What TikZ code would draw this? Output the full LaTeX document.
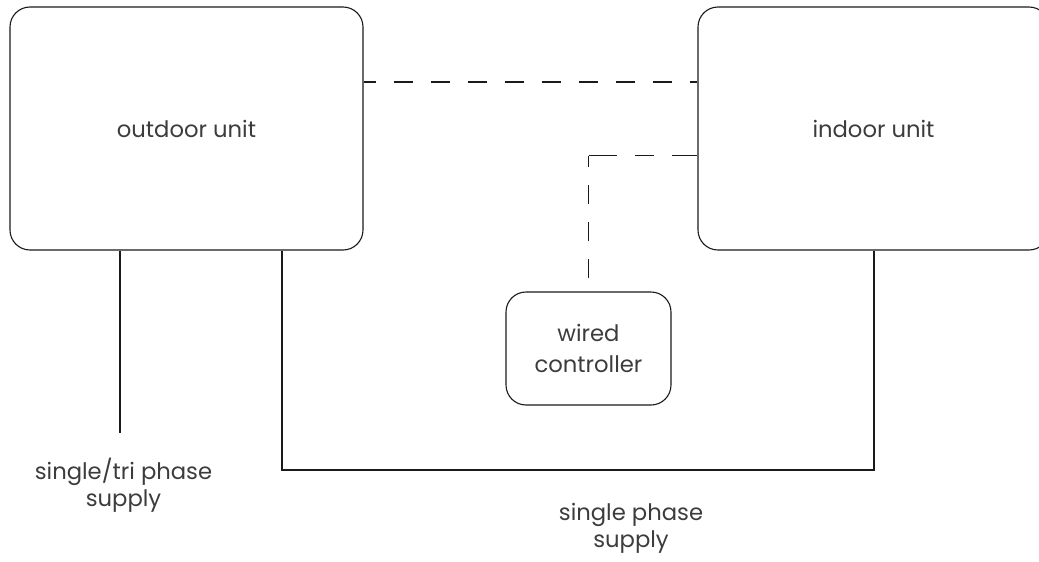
\documentclass[tikz,border=0pt]{standalone}
\usepackage{fontspec}
\setmainfont{Poppins}
\definecolor{txt}{HTML}{3C3C3C}
\definecolor{ln}{HTML}{1A1A1A}
\tikzset{
  unitbox/.style={draw=ln, line width=1.1pt, rounded corners=20pt, inner sep=0pt, text=txt, font=\fontsize{22.7}{31}\selectfont, align=center},
  wire/.style={draw=ln, line width=1.2pt},
  dashwire/.style={draw=ln, line width=1.1pt, dash pattern=on 19pt off 18pt, dash phase=7pt},
  dashvert/.style={draw=ln, line width=1.1pt, dash pattern=on 19pt off 18pt, dash phase=24pt},
  dashhor/.style={draw=ln, line width=1.1pt, dash pattern=on 28pt off 18pt on 19pt off 18pt on 30pt off 30pt},
  lbl/.style={text=txt, font=\fontsize{22.7}{27}\selectfont, align=center, inner sep=0pt}
}
\begin{document}
\begin{tikzpicture}[x=1pt,y=-1pt]
\useasboundingbox (0,0) rectangle (1039,562);
\begin{scope}
\clip (0,0) rectangle (1039,562);
\node[unitbox, minimum width=353pt, minimum height=243pt] (outdoor) at (186.5,128.5) {outdoor unit};
\node[unitbox, minimum width=351pt, minimum height=243pt] (indoor) at (873.5,128.5) {indoor unit};
\end{scope}
\node[unitbox, minimum width=165pt, minimum height=113pt] (ctrl) at (588.5,348.5) {wired\\controller};

\coordinate (p1) at (120,433);
\coordinate (c1) at (282,470);
\coordinate (c2) at (874,470);
\coordinate (k1) at (588.5,155.5);

\draw[dashwire] (outdoor.east |- 0,82) -- (indoor.west |- 0,82);
\draw[dashvert] (ctrl.north) -- (k1);
\draw[dashhor] (k1) -- (indoor.west |- k1);

\draw[wire] (outdoor.south -| p1) -- (p1);
\draw[wire] (outdoor.south -| c1) -- (c1) -- (c2) -- (indoor.south -| c2);

\node[lbl, anchor=base] (l1) at (123.5,506) {single/tri phase\\supply};
\node[lbl, anchor=base] (l2) at (631,547) {single phase\\supply};
\end{tikzpicture}
\end{document}
